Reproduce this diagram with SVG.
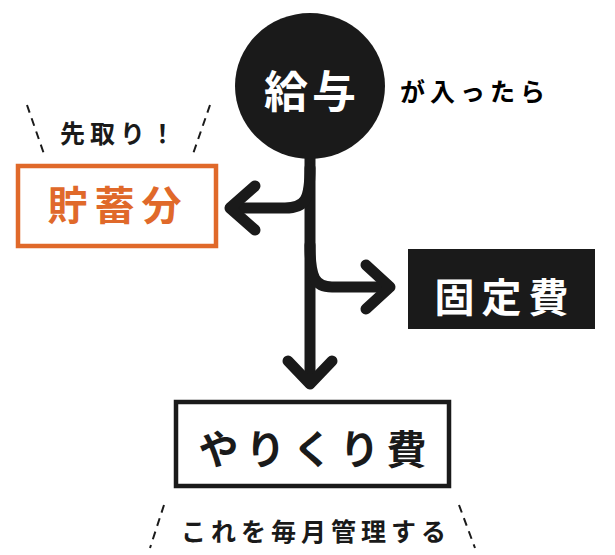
<svg xmlns="http://www.w3.org/2000/svg" width="615" height="555" viewBox="0 0 615 555">
<style>
text{font-family:"Noto Sans CJK JP","Noto Sans",sans-serif;text-anchor:middle}
.big{font-size:40px;font-weight:700;letter-spacing:7px}
.small{font-size:25px;font-weight:700;letter-spacing:5px}
.con{fill:none;stroke:#1a1a1a;stroke-width:11;stroke-linecap:round;stroke-linejoin:round}
.dash{stroke:#1a1a1a;stroke-width:2;stroke-dasharray:8 6;fill:none}
</style>
<rect width="615" height="555" fill="#ffffff"/>
<g id="connectors">
<path class="con" d="M310,150 L310,383"/>
<path class="con" d="M310,168 C310,200 305,208 285,208 L232,208"/>
<polyline class="con" points="255,186 230,208 255,230"/>
<path class="con" d="M310,245 C310,278 315,287 332,287 L388,287"/>
<polyline class="con" points="366,265 390,287 366,309"/>
<polyline class="con" points="288,361 310,384 332,361"/>
</g>
<g id="salary">
<ellipse cx="310" cy="86" rx="75" ry="73" fill="#1a1a1a"/>
<text x="312" y="108" style="font-size:44px;font-weight:700;letter-spacing:4px" fill="#ffffff">給与</text>
</g>
<g id="salary-note">
<text class="small" x="475" y="101">が入ったら</text>
</g>
<g id="savings">
<rect x="18" y="166" width="198" height="80" fill="#ffffff" stroke="#e0692a" stroke-width="4.5"/>
<text class="big" x="118" y="220" fill="#e0692a">貯蓄分</text>
</g>
<g id="savings-note">
<path class="dash" d="M27,105 L44,154"/>
<path class="dash" d="M210,105 L193,154"/>
<text class="small" x="120" y="143" fill="#1a1a1a">先取り！</text>
</g>
<g id="fixed">
<rect x="408" y="249" width="187" height="80" fill="#1a1a1a"/>
<text class="big" x="505" y="312" fill="#ffffff">固定費</text>
</g>
<g id="living">
<rect x="176" y="402" width="273" height="84" fill="#ffffff" stroke="#1a1a1a" stroke-width="4.5"/>
<text class="big" x="316" y="464" fill="#1a1a1a">やりくり費</text>
</g>
<g id="living-note">
<path class="dash" d="M164,505 L150,548"/>
<path class="dash" d="M459,505 L475,548"/>
<text class="small" x="316" y="541" fill="#1a1a1a">これを毎月管理する</text>
</g>
</svg>
